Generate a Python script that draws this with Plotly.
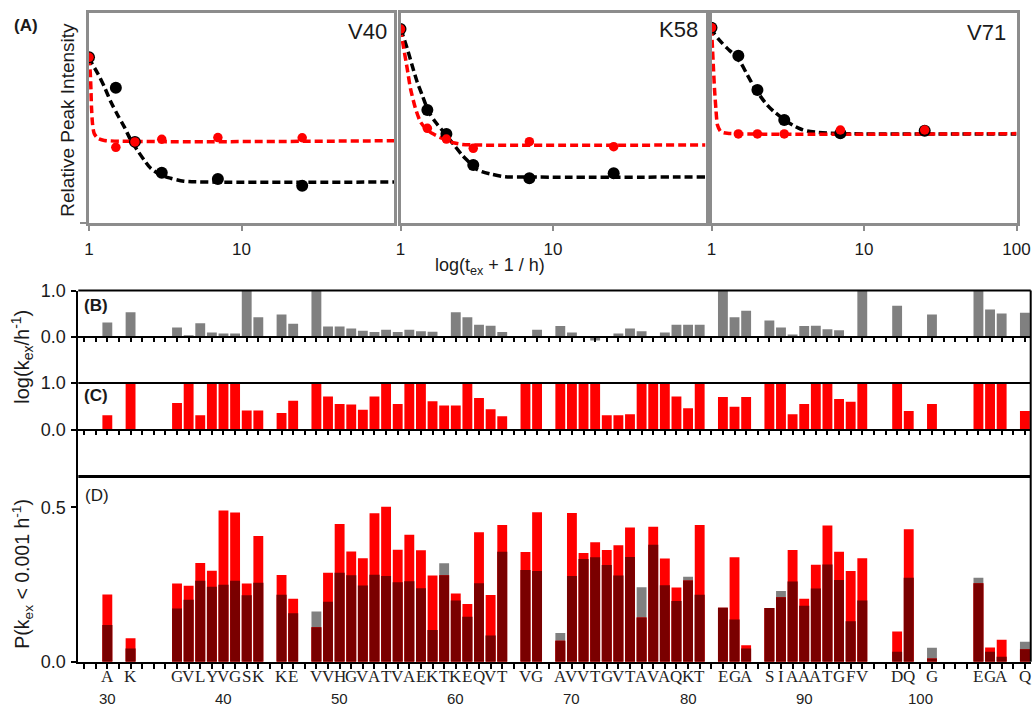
import numpy as np
import plotly.graph_objects as go

W, H = 1035, 706
SANS = "Liberation Sans, Arial, sans-serif"
SERIF = "Liberation Serif, Times New Roman, serif"

def px(x):
    return x / W

def py(y):
    return 1 - y / H

# ---------------- Panel A data ----------------
t_plus1 = [1, 1.5, 2, 3, 7, 25]
v40_black = [1.0, 0.816, 0.488, 0.301, 0.264, 0.223]
v40_red = [1.0, 0.455, 0.488, 0.504, 0.514, 0.513]
k58_black = [1.171, 0.681, 0.536, 0.348, 0.268, 0.298]
k58_red = [1.171, 0.570, 0.505, 0.449, 0.489, 0.459]
v71_black = [1.179, 1.010, 0.802, 0.620, 0.540, 0.556]
v71_red = [1.179, 0.536, 0.536, 0.536, 0.560, 0.560]

# fitted curves
v40_fit_black_x = [1, 1.03, 1.14, 1.26, 1.39, 1.54, 1.70, 1.88, 2.07, 2.30, 2.54, 2.95, 3.43, 4.19, 6, 100]
v40_fit_black_y = [1.0, 0.973, 0.903, 0.822, 0.731, 0.651, 0.580, 0.499, 0.439, 0.378, 0.328, 0.288, 0.268, 0.250, 0.245, 0.245]
v40_fit_red_x = [1, 1.02, 1.03, 1.038, 1.054, 1.08, 1.14, 1.26, 100]
v40_fit_red_y = [1.0, 0.903, 0.802, 0.701, 0.600, 0.540, 0.510, 0.497, 0.495]
k58_fit_black_x = [1, 1.026, 1.106, 1.19, 1.285, 1.387, 1.53, 1.69, 1.87, 2.07, 2.29, 2.53, 2.80, 3.09, 3.42, 3.97, 4.86, 7, 100]
k58_fit_black_y = [1.171, 1.145, 1.054, 0.953, 0.852, 0.772, 0.671, 0.610, 0.560, 0.510, 0.459, 0.409, 0.368, 0.328, 0.308, 0.292, 0.277, 0.275, 0.275]
k58_fit_red_x = [1, 1.05, 1.106, 1.162, 1.253, 1.35, 1.46, 1.61, 1.87, 2.18, 2.53, 3.09, 100]
k58_fit_red_y = [1.171, 1.054, 0.933, 0.812, 0.691, 0.610, 0.570, 0.540, 0.510, 0.485, 0.473, 0.469, 0.469]
v71_fit_black_x = [1, 1.04, 1.15, 1.27, 1.41, 1.56, 1.72, 1.90, 2.10, 2.32, 2.57, 2.84, 3.14, 3.47, 3.84, 4.24, 4.93, 7, 100]
v71_fit_black_y = [1.179, 1.145, 1.095, 1.054, 1.014, 0.964, 0.893, 0.822, 0.762, 0.711, 0.671, 0.640, 0.610, 0.586, 0.566, 0.554, 0.546, 0.538, 0.536]
v71_fit_red_x = [1, 1.015, 1.03, 1.046, 1.068, 1.094, 1.15, 1.27, 100]
v71_fit_red_y = [1.179, 1.054, 0.933, 0.812, 0.691, 0.590, 0.550, 0.540, 0.538]

panel_names = ["V40", "K58", "V71"]
a_tick_vals = [[1, 10], [1, 10], [1, 10, 100]]

# ---------------- Panels B-D data ----------------
residues = [30, 32, 36, 37, 38, 39, 40, 41, 42, 43, 45, 46, 48, 49, 50, 51, 52, 53, 54, 55,
            56, 57, 58, 59, 60, 61, 62, 63, 64, 66, 67, 69, 70, 71, 72, 73, 74, 75, 76, 77,
            78, 79, 80, 81, 83, 84, 85, 87, 88, 89, 90, 91, 92, 93, 94, 95, 98, 99, 101, 105,
            106, 107, 109]
letters = ["A", "K", "G", "V", "L", "Y", "V", "G", "S", "K", "K", "E", "V", "V", "H", "G", "V", "A", "T", "V",
           "A", "E", "K", "T", "K", "E", "Q", "V", "T", "V", "G", "A", "V", "V", "T", "G", "V", "T", "A", "V",
           "A", "Q", "K", "T", "E", "G", "A", "S", "I", "A", "A", "A", "T", "G", "F", "V", "D", "Q", "G", "E",
           "G", "A", "Q"]
logk_gray = [0.31, 0.53, 0.20, 0.03, 0.29, 0.09, 0.07, 0.07, 1.0, 0.42, 0.48, 0.28, 1.0, 0.22, 0.22, 0.18, 0.13, 0.10, 0.15, 0.10,
             0.15, 0.12, 0.11, None, 0.53, 0.42, 0.26, 0.24, 0.10, None, 0.15, 0.23, 0.09, None, -0.08, None, 0.07, 0.18, 0.12, None,
             0.09, 0.26, 0.26, 0.26, 1.0, 0.42, 0.56, 0.35, 0.20, 0.05, 0.23, 0.24, 0.16, 0.14, None, 1.0, 0.67, None, 0.48, 1.0,
             0.59, 0.50, 0.52]
logk_red = [0.31, 1.0, 0.57, 1.0, 0.31, 1.0, 1.0, 1.0, 0.41, 0.41, 0.36, 0.62, 1.0, 0.71, 0.55, 0.54, 0.43, 0.71, 1.0, 0.55,
            1.0, 1.0, 0.61, 0.52, 0.52, 1.0, 0.68, 0.44, 0.29, 1.0, 1.0, 1.0, 1.0, 1.0, 1.0, 0.31, 0.31, 0.33, 1.0, 1.0,
            1.0, 0.71, 0.46, 1.0, 0.70, 0.49, 0.70, 1.0, 1.0, 0.33, 0.55, 1.0, 1.0, 0.66, 0.60, 1.0, 1.0, 0.40, 0.55, 1.0,
            1.0, 1.0, 0.40]
p_gray = [0.119, 0.043, 0.172, 0.201, 0.262, 0.243, 0.249, 0.262, 0.215, 0.256, 0.217, 0.157, 0.163, 0.194, 0.288, 0.280, 0.247, 0.282, 0.278, 0.257,
          0.261, 0.238, 0.103, 0.319, 0.198, 0.146, 0.254, 0.085, 0.356, 0.297, 0.294, 0.093, 0.278, 0.333, 0.338, 0.313, 0.279, 0.339, 0.241, 0.379,
          0.248, 0.197, 0.275, 0.217, 0.175, 0.137, 0.043, 0.174, 0.229, 0.260, 0.181, 0.237, 0.315, 0.265, 0.131, 0.198, 0.032, 0.272, 0.045, 0.272,
          0.032, 0.016, 0.065]
p_red = [0.218, 0.076, 0.253, 0.246, 0.320, 0.295, 0.490, 0.483, 0.253, 0.407, 0.281, 0.204, 0.112, 0.288, 0.446, 0.357, 0.335, 0.481, 0.502, 0.363,
         0.411, 0.361, 0.279, 0.280, 0.221, 0.187, 0.419, 0.216, 0.443, 0.355, 0.484, 0.068, 0.482, 0.352, 0.387, 0.362, 0.377, 0.435, 0.143, 0.437,
         0.334, 0.240, 0.263, 0.443, 0.175, 0.338, 0.053, 0.174, 0.209, 0.362, 0.204, 0.314, 0.441, 0.356, 0.294, 0.335, 0.098, 0.429, 0.010, 0.254,
         0.046, 0.071, 0.040]
number_ticks = [30, 40, 50, 60, 70, 80, 90, 100]

GRAY = "#808080"
RED = "#ff0000"
DARK = "#7a0000"
AXG = "#8c8c8c"
TXT = "#1a1a1a"

fig = go.Figure()

# ---------------- Panel A ----------------
a_domains = [(89, 394), (400.5, 705.5), (711.5, 1016.5)]
a_top, a_bot = 13.3, 222.5
a_yrange = [0, (a_bot - a_top) / 165.2]

sets = [
    (v40_black, v40_red, v40_fit_black_x, v40_fit_black_y, v40_fit_red_x, v40_fit_red_y),
    (k58_black, k58_red, k58_fit_black_x, k58_fit_black_y, k58_fit_red_x, k58_fit_red_y),
    (v71_black, v71_red, v71_fit_black_x, v71_fit_black_y, v71_fit_red_x, v71_fit_red_y),
]
for i, (bk, rd, fbx, fby, frx, fry) in enumerate(sets):
    xa = "x" if i == 0 else f"x{i+1}"
    ya = "y" if i == 0 else f"y{i+1}"
    fig.add_trace(go.Scatter(x=fbx, y=fby, mode="lines", xaxis=xa, yaxis=ya,
                             line=dict(color="black", width=3.5, dash="8px,4px", shape="spline", smoothing=0.8),
                             showlegend=False, hoverinfo="skip"))
    fig.add_trace(go.Scatter(x=frx, y=fry, mode="lines", xaxis=xa, yaxis=ya,
                             line=dict(color=RED, width=3.5, dash="8px,4px", shape="spline", smoothing=0.6),
                             showlegend=False, hoverinfo="skip"))
    fig.add_trace(go.Scatter(x=t_plus1, y=bk, mode="markers", xaxis=xa, yaxis=ya,
                             marker=dict(color="black", size=12), showlegend=False))
    fig.add_trace(go.Scatter(x=t_plus1, y=rd, mode="markers", xaxis=xa, yaxis=ya,
                             marker=dict(color=RED, size=9.5), showlegend=False))

# ---------------- Panels B, C, D ----------------
fig.add_trace(go.Bar(x=residues, y=logk_gray, xaxis="x4", yaxis="y4", width=0.85,
                     marker=dict(color=GRAY, line=dict(width=0)), showlegend=False))
fig.add_trace(go.Bar(x=residues, y=logk_red, xaxis="x5", yaxis="y5", width=0.85,
                     marker=dict(color=RED, line=dict(width=0)), showlegend=False))
p_overlap = np.minimum(np.array(p_gray), np.array(p_red))
fig.add_trace(go.Bar(x=residues, y=p_gray, xaxis="x6", yaxis="y6", width=0.85,
                     marker=dict(color=GRAY, line=dict(width=0)), showlegend=False))
fig.add_trace(go.Bar(x=residues, y=p_red, xaxis="x6", yaxis="y6", width=0.85,
                     marker=dict(color=RED, line=dict(width=0)), showlegend=False))
fig.add_trace(go.Bar(x=residues, y=p_overlap, xaxis="x6", yaxis="y6", width=0.85,
                     marker=dict(color=DARK, line=dict(width=0)), showlegend=False))

layout = dict(
    template="none",
    width=W, height=H, autosize=False,
    margin=dict(l=0, r=0, t=0, b=0, pad=0),
    paper_bgcolor="white", plot_bgcolor="white",
    barmode="overlay", showlegend=False,
    font=dict(family=SANS, color=TXT),
)

for i, (x0, x1) in enumerate(a_domains):
    xk = "xaxis" if i == 0 else f"xaxis{i+1}"
    yk = "yaxis" if i == 0 else f"yaxis{i+1}"
    ya = "y" if i == 0 else f"y{i+1}"
    xa = "x" if i == 0 else f"x{i+1}"
    layout[xk] = dict(domain=[px(x0), px(x1)], anchor=ya, type="log", range=[0, 2],
                      tickvals=a_tick_vals[i], ticktext=[str(v) for v in a_tick_vals[i]],
                      ticks="outside", ticklen=6, tickwidth=2, tickcolor=AXG,
                      showline=True, mirror=True, linecolor=AXG, linewidth=2.5,
                      showgrid=False, zeroline=False, ticklabelstandoff=3, automargin=False,
                      tickfont=dict(size=17, family=SANS, color=TXT))
    layout[yk] = dict(domain=[py(a_bot), py(a_top)], anchor=xa, range=a_yrange,
                      tickvals=[0] if i == 0 else [], showticklabels=False,
                      ticks="outside" if i == 0 else "", ticklen=6, tickwidth=2, tickcolor=AXG,
                      showline=True, mirror=True, linecolor=AXG, linewidth=2.5,
                      showgrid=False, zeroline=False, automargin=False)

L, R = 78.3, 1030.7
xr = [27.5, 109.5]
bT, bB = 290.5, 383.0
cT, cB = 383.0, 476.5
dT, dB = 476.5, 661.7

common_x = dict(domain=[px(L), px(R)], range=xr, showline=True, linecolor="black", linewidth=2,
                ticks="outside", tickmode="linear", tick0=0, dtick=1, ticklen=4, tickwidth=1.5,
                tickcolor="black", showticklabels=False, showgrid=False, zeroline=False, automargin=False)
layout["xaxis4"] = dict(common_x, anchor="free", position=py((bT + bB) / 2))
layout["xaxis5"] = dict(common_x, anchor="free", position=py((cT + cB) / 2))
layout["xaxis6"] = dict(common_x, anchor="y6", ticklen=5)

common_y = dict(showline=True, linecolor="black", linewidth=2, ticks="outside", ticklen=5, tickwidth=1.5,
                tickcolor="black", showgrid=False, zeroline=False, ticklabelstandoff=2, automargin=False,
                tickfont=dict(size=18, family=SANS, color=TXT))
layout["yaxis4"] = dict(common_y, domain=[py(bB), py(bT)], anchor="x4", range=[-1, 1],
                        tickvals=[0, 1], ticktext=["0.0", "1.0"])
layout["yaxis5"] = dict(common_y, domain=[py(cB), py(cT)], anchor="x5", range=[-1, 1],
                        tickvals=[0, 1], ticktext=["0.0", "1.0"])
layout["yaxis6"] = dict(common_y, domain=[py(dB), py(dT)], anchor="x6", range=[0, 0.6],
                        tickvals=[0, 0.5], ticktext=["0.0", "0.5"])

shapes = []
for yy, wdt in [(bT, 2), (cT, 2), (dT, 3)]:
    shapes.append(dict(type="line", xref="paper", yref="paper", x0=px(L), x1=px(R), y0=py(yy), y1=py(yy),
                       line=dict(color="black", width=wdt)))
shapes.append(dict(type="line", xref="paper", yref="paper", x0=px(R), x1=px(R), y0=py(bT), y1=py(dB),
                   line=dict(color="black", width=2)))
layout["shapes"] = shapes

ann = []
def text(x, y, s, size=16, bold=False, angle=0, family=SANS):
    ann.append(dict(x=px(x), y=py(y), xref="paper", yref="paper", text=f"<b>{s}</b>" if bold else s,
                    showarrow=False, textangle=angle, xanchor="center", yanchor="middle",
                    font=dict(size=size, family=family, color=TXT)))

text(25.5, 25.5, "(A)", size=17, bold=True)
text(367, 31, panel_names[0], size=22)
text(678.5, 29.5, panel_names[1], size=22)
text(986.5, 32.5, panel_names[2], size=22)
text(66.7, 120, "Relative Peak Intensity", size=19, angle=-90)
text(490, 267, "log(t<sub>ex</sub> + 1 / h)", size=18)
text(21.7, 357, "log(k<sub>ex</sub>/h<sup>-1</sup>)", size=20, angle=-90)
text(21.7, 574, "P(k<sub>ex</sub> &lt; 0.001 h<sup>-1</sup>)", size=19.5, angle=-90)
text(95.5, 305, "(B)", size=17, bold=True)
text(95.5, 395.5, "(C)", size=17, bold=True)
text(96.5, 495.5, "(D)", size=17)

for r, s in zip(residues, letters):
    ann.append(dict(x=r, y=py(676.7), xref="x6", yref="paper", text=s, showarrow=False,
                    xanchor="center", yanchor="middle",
                    font=dict(size=17, family=SERIF, color="#222")))
for n in number_ticks:
    ann.append(dict(x=n, y=py(698.5), xref="x6", yref="paper", text=str(n), showarrow=False,
                    xanchor="center", yanchor="middle",
                    font=dict(size=15, family=SANS, color="#222")))
layout["annotations"] = ann

fig.update_layout(**layout)
# remove the browser's default page margin so the figure sits in the window corner
fig.write_html("out.html",
               config={"displayModeBar": False},
               post_script="document.documentElement.style.margin='0';"
                           "document.body.style.margin='0';"
                           "document.body.style.overflow='hidden';")
